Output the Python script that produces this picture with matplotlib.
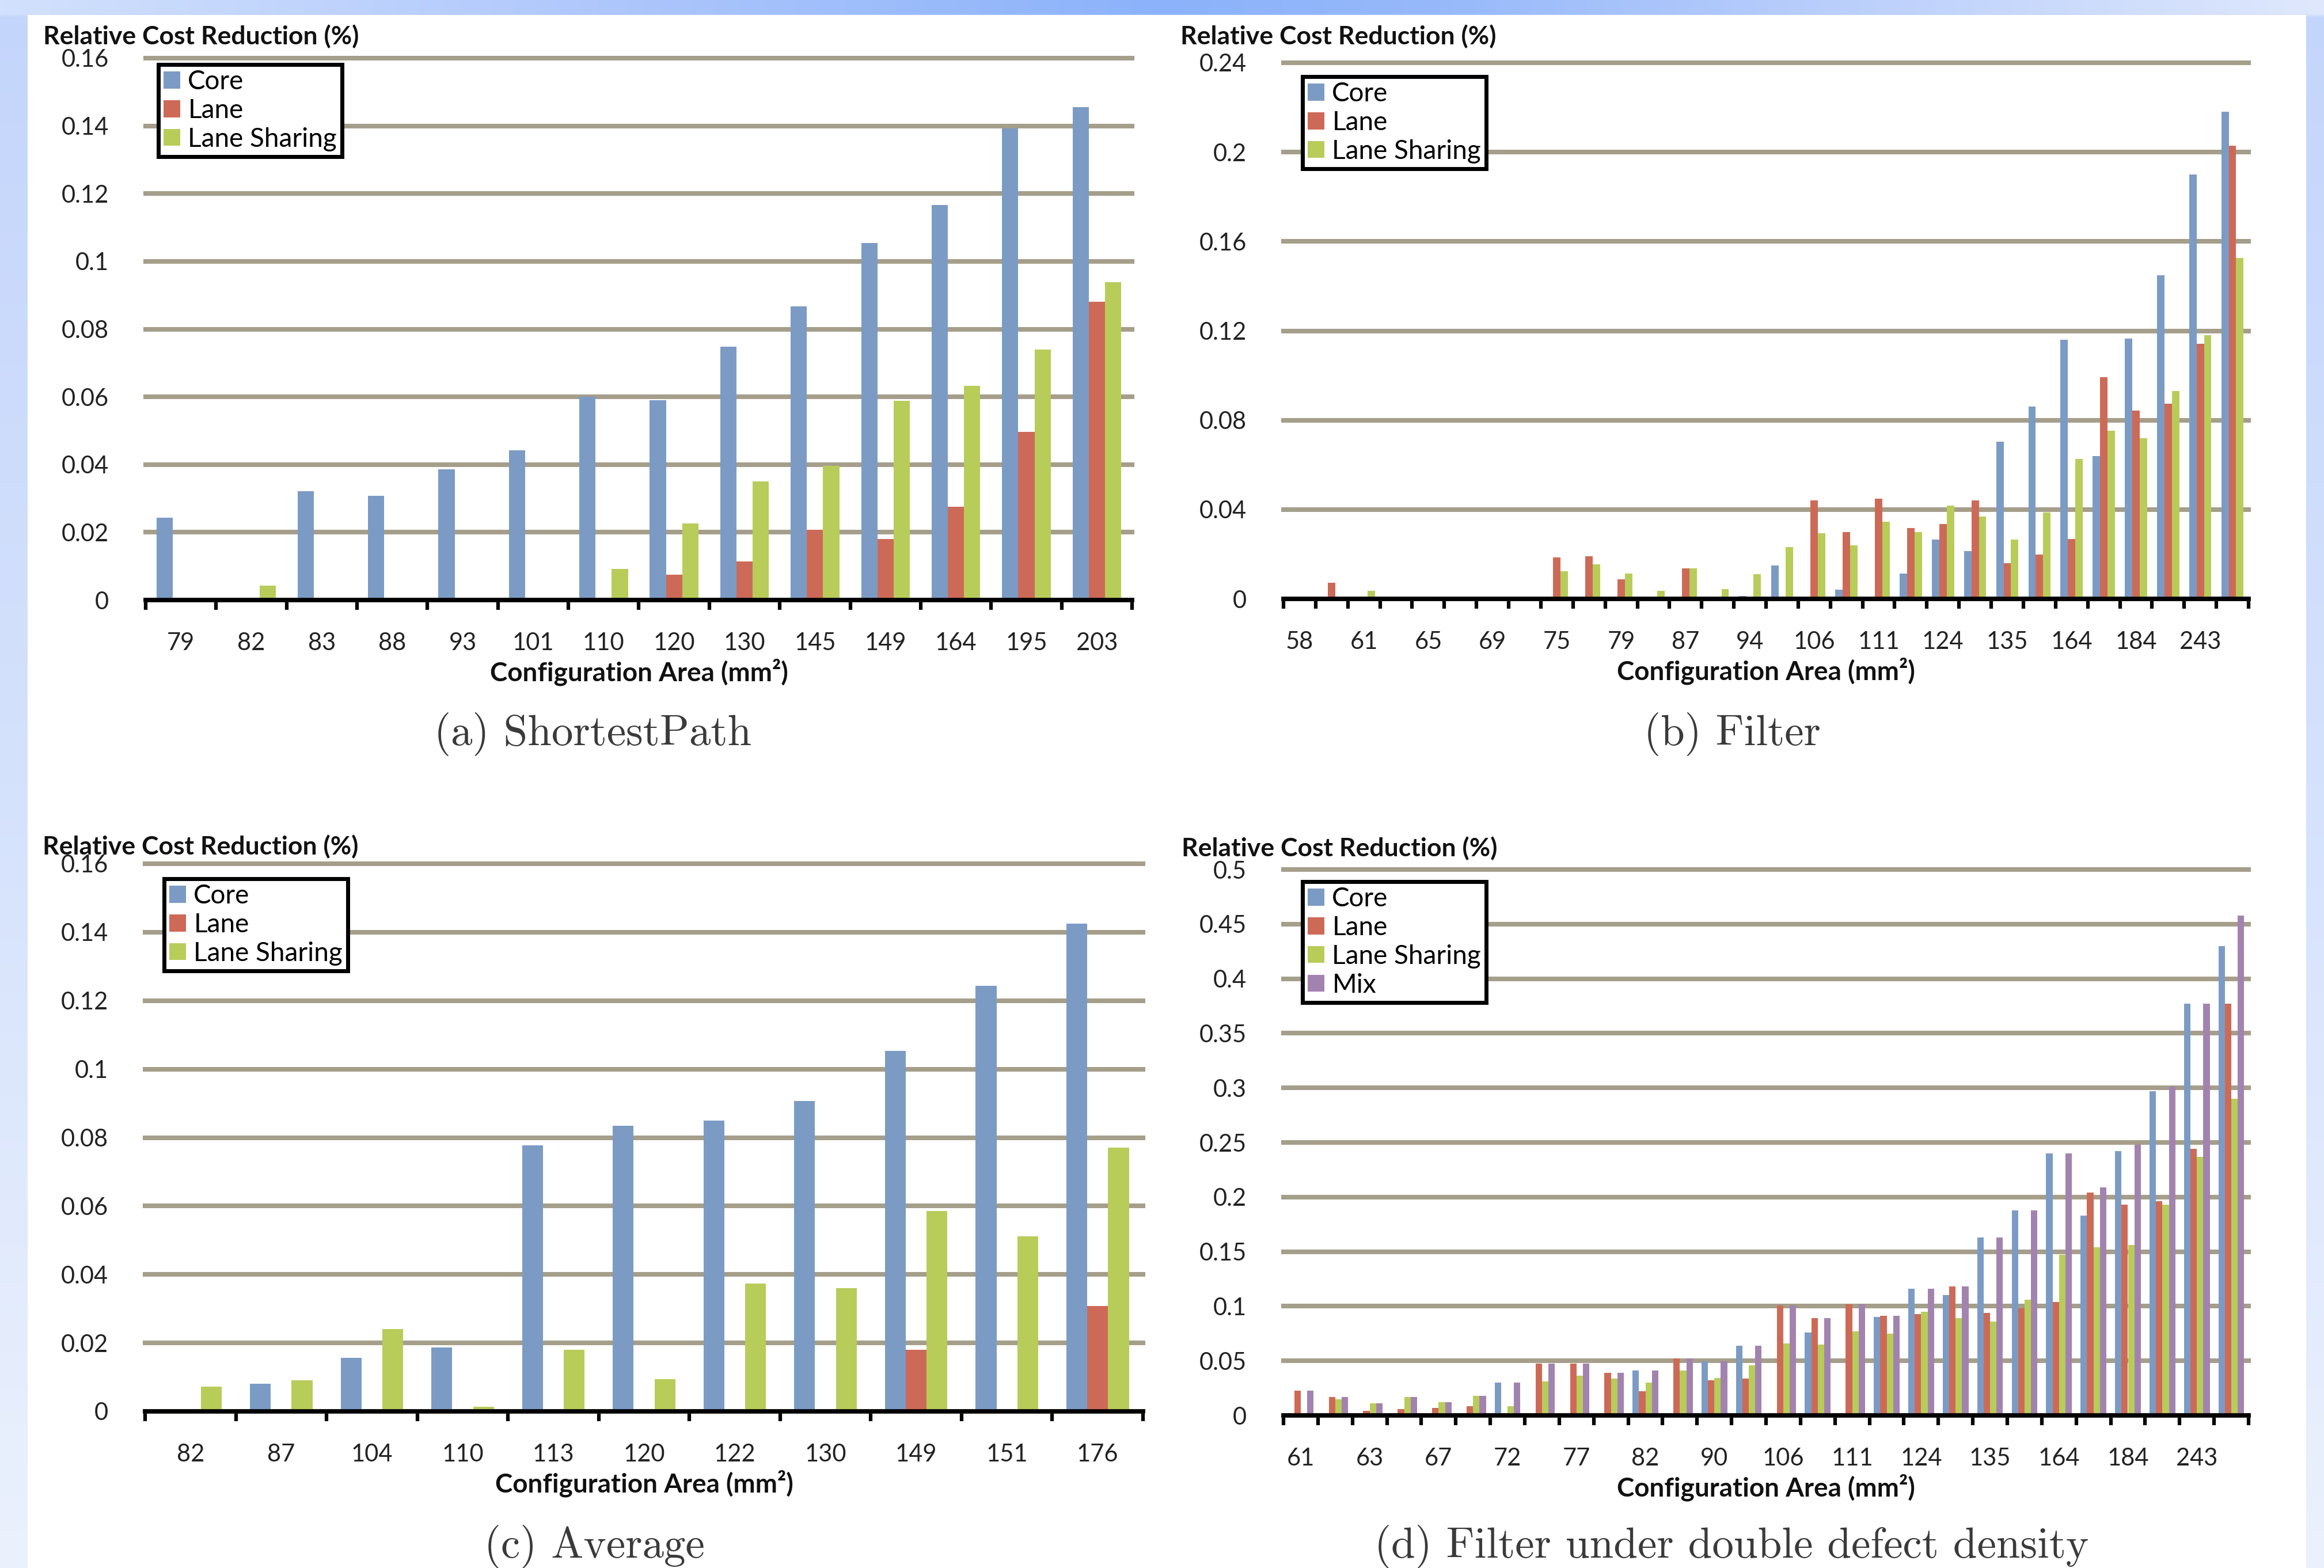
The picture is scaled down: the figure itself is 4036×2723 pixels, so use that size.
import numpy as np
import matplotlib
matplotlib.use("Agg")
import matplotlib.pyplot as plt
from matplotlib.patches import Rectangle

plt.rcParams["font.family"] = ["Lato", "DejaVu Sans"]

# ---- data ----
SERIES = ["Core", "Lane", "Lane Sharing", "Mix"]
COLORS = ["#7b9bc4", "#cd6a57", "#b8cc5a", "#a283af"]

# (a) ShortestPath
SP_AREA = ["79", "82", "83", "88", "93", "101", "110", "120", "130", "145", "149", "164", "195", "203"]
SP_CORE = [0.0243, 0, 0.0321, 0.0308, 0.0386, 0.0442, 0.060, 0.059, 0.0748, 0.0868, 0.1054, 0.1167, 0.1392, 0.1456]
SP_LANE = [0, 0, 0, 0, 0, 0, 0, 0.0074, 0.0114, 0.0208, 0.0181, 0.0276, 0.0497, 0.0881]
SP_LS = [0, 0.0042, 0, 0, 0, 0, 0.0091, 0.0226, 0.035, 0.0397, 0.0588, 0.0632, 0.074, 0.0939]

# (b) Filter -- 30 configurations, only every other one labelled
FI_LABELS = ["58", "61", "65", "69", "75", "79", "87", "94", "106", "111", "124", "135", "164", "184", "243"]
FI_CORE = [0, 0, 0, 0, 0, 0, 0, 0, 0, 0, 0, 0, 0, 0, 0.0013, 0.015, 0, 0.004, 0, 0.0113,
           0.0265, 0.0214, 0.0705, 0.086, 0.116, 0.0639, 0.1164, 0.145, 0.190, 0.218]
FI_LANE = [0, 0.0072, 0.001, 0, 0, 0, 0, 0, 0.0185, 0.019, 0.0087, 0, 0.0136, 0, 0, 0, 0.044, 0.030,
           0.0448, 0.0316, 0.0336, 0.044, 0.016, 0.0198, 0.0268, 0.0992, 0.0843, 0.0873, 0.1143, 0.203]
FI_LS = [0, 0, 0.0035, 0, 0.001, 0, 0.0003, 0, 0.0125, 0.0155, 0.0113, 0.0036, 0.0136, 0.0043, 0.011,
         0.0232, 0.0293, 0.024, 0.0346, 0.030, 0.0418, 0.0369, 0.0265, 0.0387, 0.0626, 0.0752, 0.0718,
         0.093, 0.118, 0.1527]

# (c) Average
AV_AREA = ["82", "87", "104", "110", "113", "120", "122", "130", "149", "151", "176"]
AV_CORE = [0, 0.0081, 0.0157, 0.0186, 0.0778, 0.0834, 0.085, 0.0907, 0.1053, 0.1243, 0.1425]
AV_LANE = [0, 0, 0, 0, 0, 0, 0, 0, 0.018, 0, 0.0308]
AV_LS = [0.0073, 0.0091, 0.024, 0.0013, 0.018, 0.0095, 0.0374, 0.036, 0.0585, 0.0511, 0.077]

# (d) Filter under double defect density -- 28 configurations
DD_LABELS = ["61", "63", "67", "72", "77", "82", "90", "106", "111", "124", "135", "164", "184", "243"]
DD_CORE = [0, 0, 0, 0, 0, 0, 0.030, 0, 0, 0, 0.041, 0, 0.0496, 0.064, 0, 0.076, 0, 0.090, 0.116,
           0.110, 0.163, 0.188, 0.240, 0.183, 0.242, 0.297, 0.377, 0.430]
DD_LANE = [0.0226, 0.0167, 0.004, 0.0056, 0.0067, 0.0083, 0, 0.0476, 0.0476, 0.039, 0.022, 0.052,
           0.032, 0.034, 0.101, 0.089, 0.102, 0.091, 0.093, 0.118, 0.094, 0.098, 0.104, 0.204, 0.193,
           0.196, 0.244, 0.377]
DD_LS = [0, 0.015, 0.011, 0.0167, 0.012, 0.018, 0.0083, 0.031, 0.0365, 0.034, 0.030, 0.041, 0.0345,
         0.0457, 0.066, 0.065, 0.077, 0.075, 0.095, 0.089, 0.086, 0.106, 0.147, 0.154, 0.156, 0.193,
         0.237, 0.290]
DD_MIX = [0.0226, 0.0167, 0.011, 0.0167, 0.012, 0.018, 0.030, 0.0476, 0.0476, 0.039, 0.041, 0.052,
          0.0496, 0.064, 0.101, 0.089, 0.102, 0.091, 0.116, 0.118, 0.163, 0.188, 0.240, 0.209, 0.248,
          0.301, 0.377, 0.458]

YT_016 = [0, 0.02, 0.04, 0.06, 0.08, 0.1, 0.12, 0.14, 0.16]
YT_024 = [0, 0.04, 0.08, 0.12, 0.16, 0.2, 0.24]
YT_050 = [0, 0.05, 0.1, 0.15, 0.2, 0.25, 0.3, 0.35, 0.4, 0.45, 0.5]

W, H = 4037, 2723
fig = plt.figure(figsize=(W / 100, H / 100), dpi=100)


def fxy(x, y):
    return x / W, 1 - y / H


# ---- slide-like background: blue gradient border, white page ----
def ramp(stops, n):
    pos = np.array([s[0] for s in stops])
    cols = np.array([matplotlib.colors.to_rgb(s[1]) for s in stops])
    t = np.linspace(0, 1, n)
    return np.stack([np.interp(t, pos, cols[:, k]) for k in range(3)], axis=-1)


bg = fig.add_axes([0, 0, 1, 1], zorder=-5)
side = ramp([(0, "#c4d5fb"), (0.5, "#d5e2fc"), (1, "#ebf1fd")], 400)
img = np.repeat(side[:, None, :], 400, axis=1)
top = ramp([(0, "#d2e1fd"), (0.25, "#b0c8fc"), (0.5, "#8bb2fa"), (0.62, "#97b9fa"),
            (0.8, "#bcd0fc"), (1, "#dfe8fd")], 400)
img[:4, :, :] = top[None, :, :]
bg.imshow(img, extent=(0, W, H, 0), aspect="auto", interpolation="bilinear")
bg.add_patch(Rectangle((48, 26), 4005 - 48, H - 26, facecolor="white", edgecolor="none"))
bg.set_xlim(0, W)
bg.set_ylim(H, 0)
bg.axis("off")


def panel(x0, x1, ytop, ybase, series, labels, step, yticks, legend_xy, title_xy,
          caption, caption_xy):
    ax = fig.add_axes([x0 / W, 1 - ybase / H, (x1 - x0) / W, (ybase - ytop) / H])
    n = len(series[0])
    m = len(series)
    w = 1 / (m + 1.35)
    x = np.arange(n)
    for k, vals in enumerate(series):
        ax.bar(x + (k - (m - 1) / 2) * w, vals, width=w, color=COLORS[k],
               label=SERIES[k], linewidth=0, zorder=3)
    ax.set_xlim(-0.5, n - 0.5)
    ax.set_ylim(0, yticks[-1])
    ax.set_yticks(yticks)
    ax.set_yticklabels([f"{v:g}" for v in yticks])
    ax.yaxis.grid(True, color="#a59e8a", linewidth=5.8)
    for gl in ax.get_ygridlines():
        gl.set_clip_on(False)
    ax.set_axisbelow(True)
    for s in ("left", "right", "top"):
        ax.spines[s].set_visible(False)
    ax.spines["bottom"].set_linewidth(5.5)
    ax.spines["bottom"].set_color("black")
    ax.spines["bottom"].set_zorder(4)
    ax.set_xticks(np.arange(0, n, step))
    ax.set_xticklabels(labels)
    ax.set_xticks(np.arange(n + 1) - 0.5, minor=True)
    ax.tick_params(axis="x", which="major", length=0, pad=40, labelsize=30, labelcolor="#222222")
    ax.tick_params(axis="x", which="minor", length=12, width=4.5, color="black", direction="out")
    ax.tick_params(axis="y", length=0, pad=46, labelsize=30, labelcolor="#222222")

    leg = ax.legend(loc="upper left", bbox_to_anchor=fxy(*legend_xy), bbox_transform=fig.transFigure,
                    borderaxespad=0, fontsize=33, handlelength=0.62, handleheight=0.62,
                    handletextpad=0.3, labelspacing=0.17, borderpad=0.2, fancybox=False,
                    framealpha=1, edgecolor="black")
    leg.get_frame().set_linewidth(5)

    fig.text(*fxy(*title_xy), "Relative Cost Reduction (%)", fontsize=32, fontweight="bold",
             ha="left", va="center", color="#111111")
    cx = (x0 + x1) / 2
    fig.text(*fxy(cx, ybase + 125), "Configuration Area (mm²)", fontsize=33, fontweight="bold",
             ha="center", va="center", color="#111111")
    fig.text(*fxy(*caption_xy), caption, family="cmr10", fontsize=54, ha="center", va="center",
             color="#3a3a3a")
    return ax


panel(253, 1966, 101, 1042, [SP_CORE, SP_LANE, SP_LS], SP_AREA, 1, YT_016,
      (275, 112), (75, 63), "(a) ShortestPath", (1030, 1275))
panel(2229, 3905, 109, 1040, [FI_CORE, FI_LANE, FI_LS], FI_LABELS, 2, YT_024,
      (2262, 133), (2050, 63), "(b) Filter", (3008, 1275))
panel(252, 1985, 1500, 2451, [AV_CORE, AV_LANE, AV_LS], AV_AREA, 1, YT_016,
      (285, 1526), (74, 1470), "(c) Average", (1032, 2686))
panel(2229, 3905, 1510, 2458, [DD_CORE, DD_LANE, DD_LS, DD_MIX], DD_LABELS, 2, YT_050,
      (2262, 1531), (2052, 1473), "(d) Filter under double defect density", (3007, 2686))

fig.savefig("out.png", dpi=100)
